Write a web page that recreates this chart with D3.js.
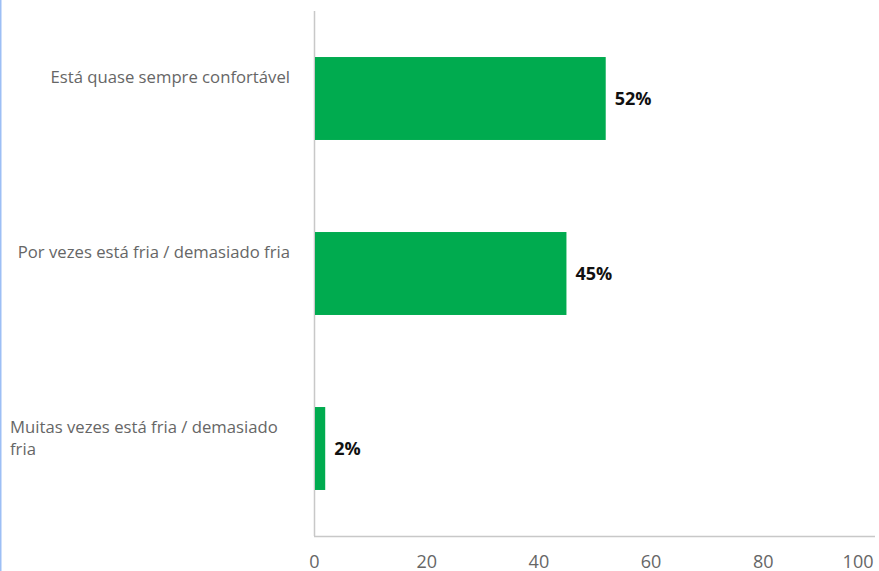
<!DOCTYPE html>
<html>
<head>
<meta charset="utf-8">
<script src="https://cdn.jsdelivr.net/npm/d3@7"></script>
<style>
  html, body { margin: 0; padding: 0; background: #fff; }
  svg { display: block; font-family: "Open Sans", sans-serif; }
</style>
</head>
<body>
<svg id="chart" width="879" height="571"></svg>
<script>
// Survey answers and their shares (%)
const categories = [
  "Está quase sempre confortável",
  "Por vezes está fria / demasiado fria",
  "Muitas vezes está fria / demasiado fria"
];
const values = [52, 45, 2];
const xTicks = [0, 20, 40, 60, 80, 100];

const W = 879, H = 571;
const plot = { left: 314, top: 11, right: 875, bottom: 536 };
const labelRight = 290, labelWrap = 280;

const svg = d3.select("#chart");

// thin accent line along the left edge
svg.append("rect").attr("x", 0).attr("y", 0).attr("width", 1.5).attr("height", H)
  .attr("fill", "#9dbff5");

const x = d3.scaleLinear().domain([0, 100]).range([plot.left, plot.right]);
const y = d3.scaleBand().domain(categories).range([plot.top, plot.bottom])
  .paddingInner(0.526).paddingOuter(0.263);

// axis lines
svg.append("line").attr("x1", plot.left + 0.5).attr("x2", plot.left + 0.5)
  .attr("y1", plot.top).attr("y2", plot.bottom)
  .attr("stroke", "#c8c8c8").attr("stroke-width", 1.5);
svg.append("line").attr("x1", plot.left).attr("x2", plot.right)
  .attr("y1", plot.bottom + 0.5).attr("y2", plot.bottom + 0.5)
  .attr("stroke", "#c8c8c8").attr("stroke-width", 1.5);

// x tick labels (last one kept inside the frame)
const xAxis = d3.axisBottom(x).tickValues(xTicks).tickSize(0).tickPadding(0);
const gx = svg.append("g").attr("transform", `translate(0,${plot.bottom})`).call(xAxis);
gx.select(".domain").remove();
gx.selectAll("text")
  .attr("dy", null).attr("y", 32)
  .attr("font-size", 18).attr("fill", "#666")
  .attr("font-family", "Open Sans, sans-serif")
  .each(function (d) {
    const t = d3.select(this);
    const w = this.getComputedTextLength();
    const cx = x(d);
    if (cx + w / 2 > W - 6) t.attr("text-anchor", "end").attr("x", (W - 6) - cx);
  });

// bars
svg.append("g").selectAll("rect").data(categories).join("rect")
  .attr("x", x(0) + 1)
  .attr("y", d => y(d))
  .attr("width", (d, i) => x(values[i]) - x(0) - 1)
  .attr("height", y.bandwidth())
  .attr("fill", "#00ab4f");

// value labels
svg.append("g").selectAll("text").data(categories).join("text")
  .attr("x", (d, i) => x(values[i]) + 9)
  .attr("y", d => y(d) + y.bandwidth() / 2)
  .attr("dy", "0.35em")
  .attr("font-size", 18).attr("font-weight", 700).attr("fill", "#111")
  .text((d, i) => values[i] + "%");

// category labels, wrapped to a fixed width
const catG = svg.append("g");
categories.forEach(c => {
  const center = y(c) + y.bandwidth() / 2;
  const t = catG.append("text").attr("font-size", 16.7).attr("fill", "#666");
  const words = c.split(" ");
  const lines = [];
  let cur = [];
  const probe = t.append("tspan");
  words.forEach(wd => {
    const test = cur.concat(wd).join(" ");
    probe.text(test);
    if (probe.node().getComputedTextLength() > labelWrap && cur.length) {
      lines.push(cur.join(" "));
      cur = [wd];
    } else cur.push(wd);
  });
  lines.push(cur.join(" "));
  probe.remove();
  const multi = lines.length > 1;
  t.attr("text-anchor", multi ? "start" : "end");
  lines.forEach((ln, i) => {
    t.append("tspan")
      .attr("x", multi ? labelRight - labelWrap : labelRight)
      .attr("y", center - 15.5 + i * 22)
      .text(ln);
  });
});
</script>
</body>
</html>
